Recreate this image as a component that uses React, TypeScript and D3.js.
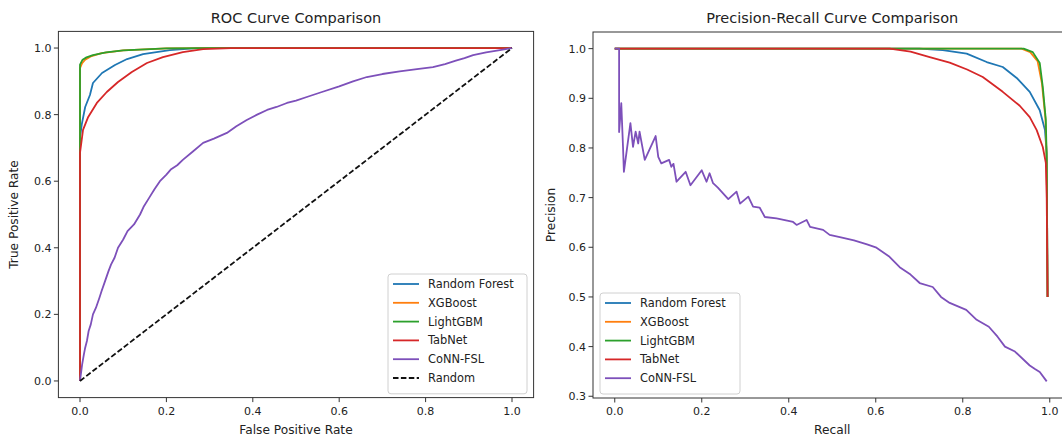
import React from "react";
import * as d3 from "d3";

// ROC points [fpr, tpr]
const rocRF = [[0, 0], [0, 0.73], [0.004, 0.77], [0.012, 0.823], [0.023, 0.859], [0.03, 0.895], [0.051, 0.925], [0.081, 0.949], [0.109, 0.967], [0.146, 0.982], [0.208, 0.994], [0.27, 1], [1, 1]];
const rocXGB = [[0, 0], [0, 0.94], [0.005, 0.955], [0.012, 0.965], [0.025, 0.975], [0.05, 0.985], [0.1, 0.993], [0.2, 0.999], [0.3, 1], [1, 1]];
const rocLGBM = [[0, 0], [0, 0.95], [0.006, 0.965], [0.015, 0.972], [0.03, 0.979], [0.06, 0.987], [0.1, 0.993], [0.2, 0.999], [0.3, 1], [1, 1]];
const rocTab = [[0, 0], [0, 0.685], [0.007, 0.754], [0.019, 0.793], [0.039, 0.835], [0.062, 0.868], [0.088, 0.898], [0.12, 0.928], [0.155, 0.955], [0.192, 0.973], [0.238, 0.988], [0.285, 0.997], [0.35, 1], [1, 1]];
const rocConn = [[0, 0], [0.003, 0.03], [0.005, 0.05], [0.009, 0.08], [0.012, 0.1], [0.016, 0.12], [0.02, 0.15], [0.025, 0.17], [0.03, 0.2], [0.037, 0.22], [0.045, 0.25], [0.05, 0.27], [0.058, 0.3], [0.066, 0.33], [0.072, 0.35], [0.08, 0.37], [0.088, 0.4], [0.1, 0.425], [0.11, 0.45], [0.125, 0.47], [0.139, 0.5], [0.148, 0.525], [0.16, 0.55], [0.172, 0.575], [0.185, 0.6], [0.2, 0.62], [0.21, 0.635], [0.225, 0.648], [0.238, 0.664], [0.262, 0.69], [0.285, 0.715], [0.31, 0.728], [0.34, 0.745], [0.362, 0.765], [0.386, 0.784], [0.41, 0.8], [0.433, 0.814], [0.455, 0.823], [0.479, 0.835], [0.5, 0.842], [0.525, 0.853], [0.56, 0.868], [0.6, 0.885], [0.632, 0.9], [0.664, 0.913], [0.7, 0.922], [0.74, 0.93], [0.78, 0.937], [0.817, 0.943], [0.845, 0.952], [0.87, 0.962], [0.89, 0.97], [0.91, 0.979], [0.94, 0.987], [0.972, 0.994], [1, 1]];
const rocRandom = [[0, 0], [1, 1]];

// PR points [recall, precision]
const prRF = [[0, 1], [0.7, 1], [0.754, 0.997], [0.809, 0.99], [0.855, 0.973], [0.892, 0.963], [0.924, 0.941], [0.954, 0.913], [0.977, 0.876], [0.989, 0.836], [0.993, 0.79], [0.995, 0.5]];
const prXGB = [[0, 1], [0.935, 1], [0.955, 0.993], [0.972, 0.975], [0.982, 0.93], [0.99, 0.86], [0.993, 0.776], [0.995, 0.5]];
const prLGBM = [[0, 1], [0.94, 1], [0.961, 0.993], [0.977, 0.971], [0.984, 0.923], [0.991, 0.856], [0.993, 0.776], [0.995, 0.5]];
const prTab = [[0, 1], [0.632, 1], [0.68, 0.994], [0.724, 0.983], [0.77, 0.972], [0.81, 0.958], [0.846, 0.943], [0.892, 0.913], [0.931, 0.885], [0.954, 0.862], [0.97, 0.836], [0.984, 0.802], [0.991, 0.77], [0.993, 0.7], [0.995, 0.5]];
const prConn = [[0, 1], [0.01, 1], [0.01, 0.832], [0.015, 0.89], [0.019, 0.802], [0.021, 0.752], [0.036, 0.85], [0.042, 0.802], [0.048, 0.833], [0.054, 0.809], [0.057, 0.833], [0.069, 0.776], [0.094, 0.824], [0.1, 0.782], [0.107, 0.769], [0.125, 0.776], [0.13, 0.762], [0.135, 0.768], [0.142, 0.732], [0.163, 0.752], [0.174, 0.725], [0.2, 0.755], [0.211, 0.732], [0.218, 0.749], [0.226, 0.729], [0.237, 0.72], [0.261, 0.697], [0.28, 0.712], [0.288, 0.688], [0.307, 0.702], [0.318, 0.682], [0.333, 0.68], [0.345, 0.661], [0.372, 0.658], [0.41, 0.651], [0.418, 0.645], [0.441, 0.655], [0.449, 0.641], [0.479, 0.635], [0.494, 0.625], [0.52, 0.62], [0.55, 0.614], [0.58, 0.606], [0.6, 0.6], [0.63, 0.582], [0.655, 0.56], [0.68, 0.545], [0.701, 0.528], [0.731, 0.52], [0.75, 0.5], [0.77, 0.488], [0.808, 0.474], [0.832, 0.454], [0.86, 0.44], [0.88, 0.42], [0.897, 0.4], [0.92, 0.39], [0.954, 0.362], [0.966, 0.355], [0.977, 0.349], [0.993, 0.33]];

const modelNames = ["Random Forest", "XGBoost", "LightGBM", "TabNet", "CoNN-FSL"];
const modelColors = ["#1f77b4", "#ff7f0e", "#2ca02c", "#d62728", "#7d50ba"];
const unitTicks = [0, 0.2, 0.4, 0.6, 0.8, 1.0];
const precisionTicks = [0.3, 0.4, 0.5, 0.6, 0.7, 0.8, 0.9, 1.0];

const FONT = "DejaVu Sans, sans-serif";
const INK = "#222";

type Series = { name: string; color: string; data: number[][]; dash?: string };

function Panel({ left, right, top, bottom, yDomain, yTicks, title, xLabel, yLabel, yLabelOffset, series, legend }: any) {
  const x = d3.scaleLinear().domain([-0.05, 1.05]).range([left, right]);
  const y = d3.scaleLinear().domain(yDomain).range([bottom, top]);
  const line = d3.line<number[]>().x(d => x(d[0])).y(d => y(d[1]));
  const clipId = "clip" + Math.round(left);
  const rowH = 18.8;
  return (
    <g>
      <defs>
        <clipPath id={clipId}>
          <rect x={left} y={top} width={right - left} height={bottom - top} />
        </clipPath>
      </defs>
      <text x={(left + right) / 2} y={23} textAnchor="middle" fontFamily={FONT} fontSize={14.5} fill={INK}>{title}</text>
      <g clipPath={`url(#${clipId})`}>
        {series.map((s: Series) => (
          <path key={s.name} d={line(s.data) || ""} fill="none" stroke={s.color} strokeWidth={1.8}
            strokeDasharray={s.dash} strokeLinejoin="round" />
        ))}
      </g>
      <rect x={left} y={top} width={right - left} height={bottom - top} fill="none" stroke="#333" strokeWidth={1} />
      {unitTicks.map(t => (
        <g key={"x" + t}>
          <line x1={x(t)} x2={x(t)} y1={bottom} y2={bottom + 4.5} stroke="#333" />
          <text x={x(t)} y={bottom + 17} textAnchor="middle" fontFamily={FONT} fontSize={11} fill={INK}>{t.toFixed(1)}</text>
        </g>
      ))}
      {yTicks.map((t: number) => (
        <g key={"y" + t}>
          <line x1={left - 4.5} x2={left} y1={y(t)} y2={y(t)} stroke="#333" />
          <text x={left - 7} y={y(t) + 4} textAnchor="end" fontFamily={FONT} fontSize={11} fill={INK}>{t.toFixed(1)}</text>
        </g>
      ))}
      <text x={(left + right) / 2} y={434} textAnchor="middle" fontFamily={FONT} fontSize={12.2} fill={INK}>{xLabel}</text>
      <text transform={`translate(${left - yLabelOffset},${(top + bottom) / 2}) rotate(-90)`} textAnchor="middle" fontFamily={FONT} fontSize={12.2} fill={INK}>{yLabel}</text>
      <g transform={`translate(${legend.x},${legend.y})`}>
        <rect x={0} y={0} width={legend.w} height={series.length * rowH + 7} rx={3} fill="white" fillOpacity={0.85} stroke="#d0d0d0" />
        {series.map((s: Series, i: number) => (
          <g key={s.name} transform={`translate(0,${10 + i * rowH})`}>
            <line x1={5} x2={31} y1={0} y2={0} stroke={s.color} strokeWidth={1.8} strokeDasharray={s.dash} />
            <text x={40} y={4} fontFamily={FONT} fontSize={11.4} fill={INK}>{s.name}</text>
          </g>
        ))}
      </g>
    </g>
  );
}

export default function App() {
  const rocData = [rocRF, rocXGB, rocLGBM, rocTab, rocConn];
  const prData = [prRF, prXGB, prLGBM, prTab, prConn];
  const rocSeries: Series[] = modelNames.map((n, i) => ({ name: n, color: modelColors[i], data: rocData[i] }));
  rocSeries.push({ name: "Random", color: "#111", data: rocRandom, dash: "5.5 2.4" });
  const prSeries: Series[] = modelNames.map((n, i) => ({ name: n, color: modelColors[i], data: prData[i] }));
  return (
    <svg width={1062} height={439} style={{ position: "absolute", left: 0, top: 0, background: "white" }}>
      <Panel left={58.4} right={533.6} top={31.4} bottom={397.6} yDomain={[-0.05, 1.05]} yTicks={unitTicks}
        title="ROC Curve Comparison" xLabel="False Positive Rate" yLabel="True Positive Rate" yLabelOffset={40}
        series={rocSeries} legend={{ x: 388, y: 274, w: 139 }} />
      <Panel left={593} right={1071.5} top={32} bottom={398} yDomain={[0.2965, 1.0335]} yTicks={precisionTicks}
        title="Precision-Recall Curve Comparison" xLabel="Recall" yLabel="Precision" yLabelOffset={38}
        series={prSeries} legend={{ x: 600, y: 293, w: 140 }} />
    </svg>
  );
}
